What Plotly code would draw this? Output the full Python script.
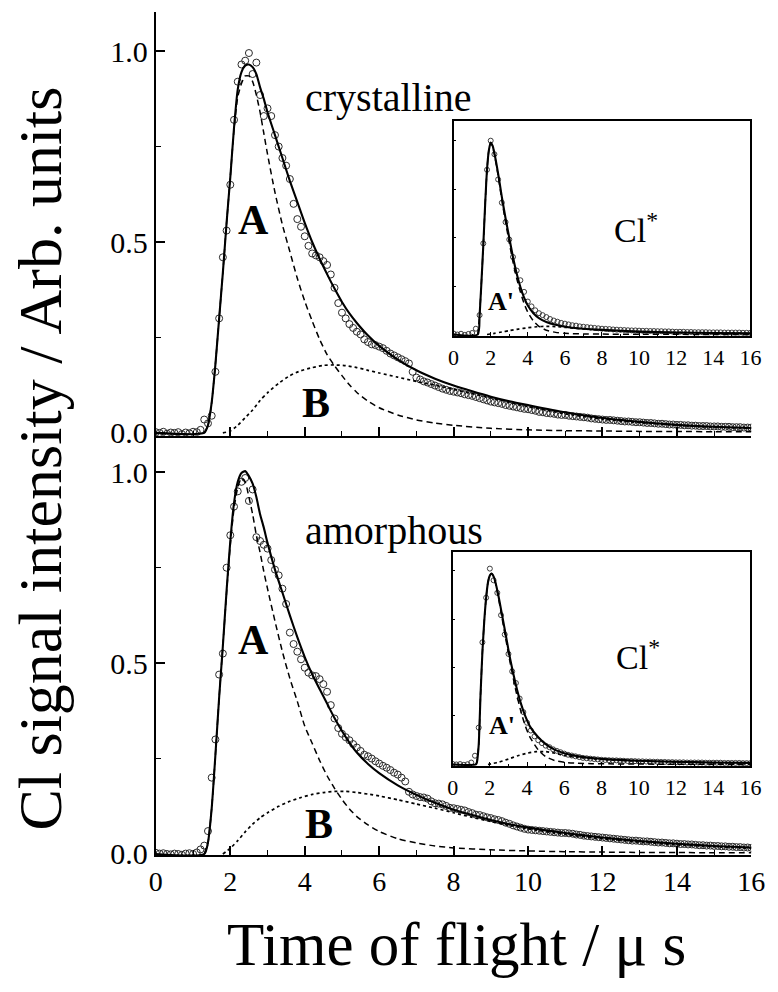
import plotly.graph_objects as go

# ---------------- data ----------------
tof_main = [0.0, 0.1, 0.2, 0.3, 0.4, 0.5, 0.6, 0.7, 0.8, 0.9,
            1.0, 1.1, 1.2, 1.3, 1.4, 1.5, 1.6, 1.7, 1.8, 1.9,
            2.0, 2.1, 2.2, 2.3, 2.4, 2.5, 2.6, 2.7, 2.8, 2.9,
            3.0, 3.1, 3.2, 3.3, 3.4, 3.5, 3.6, 3.7, 3.8, 3.9,
            4.0, 4.1, 4.2, 4.3, 4.4, 4.5, 4.6, 4.7, 4.8, 4.9,
            5.0, 5.1, 5.2, 5.3, 5.4, 5.5, 5.6, 5.7, 5.8, 5.9,
            6.0, 6.1, 6.2, 6.3, 6.4, 6.5, 6.6, 6.7, 6.8, 6.9,
            7.0, 7.1, 7.2, 7.3, 7.4, 7.5, 7.6, 7.7, 7.8, 7.9,
            8.0, 8.1, 8.2, 8.3, 8.4, 8.5, 8.6, 8.7, 8.8, 8.9,
            9.0, 9.1, 9.2, 9.3, 9.4, 9.5, 9.6, 9.7, 9.8, 9.9,
            10.0, 10.1, 10.2, 10.3, 10.4, 10.5, 10.6, 10.7, 10.8, 10.9,
            11.0, 11.1, 11.2, 11.3, 11.4, 11.5, 11.6, 11.7, 11.8, 11.9,
            12.0, 12.1, 12.2, 12.3, 12.4, 12.5, 12.6, 12.7, 12.8, 12.9,
            13.0, 13.1, 13.2, 13.3, 13.4, 13.5, 13.6, 13.7, 13.8, 13.9,
            14.0, 14.1, 14.2, 14.3, 14.4, 14.5, 14.6, 14.7, 14.8, 14.9,
            15.0, 15.1, 15.2, 15.3, 15.4, 15.5, 15.6, 15.7, 15.8, 15.9,
            16.0]

cryst_data = [0.002, 0.000, 0.003, -0.002, 0.001, 0.000, 0.002, -0.003, 0.001, -0.001,
              0.003, 0.002, 0.008, 0.035, 0.025, 0.045, 0.160, 0.300, 0.460, 0.530,
              0.650, 0.820, 0.920, 0.965, 0.975, 0.995, 0.940, 0.970, 0.885, 0.830,
              0.850, 0.830, 0.780, 0.750, 0.720, 0.700, 0.665, 0.600, 0.560, 0.540,
              0.515, 0.490, 0.470, 0.465, 0.460, 0.450, 0.440, 0.415, 0.380, 0.340,
              0.315, 0.300, 0.285, 0.275, 0.265, 0.258, 0.245, 0.238, 0.232, 0.230,
              0.226, 0.222, 0.215, 0.208, 0.203, 0.198, 0.193, 0.188, 0.182, 0.160,
              0.145, 0.140, 0.135, 0.132, 0.128, 0.124, 0.120, 0.116, 0.113, 0.110,
              0.108, 0.106, 0.104, 0.101, 0.099, 0.097, 0.094, 0.091, 0.088, 0.085,
              0.082, 0.080, 0.078, 0.076, 0.073, 0.071, 0.069, 0.067, 0.065, 0.063,
              0.062, 0.060, 0.058, 0.055, 0.054, 0.052, 0.051, 0.050, 0.048, 0.047,
              0.047, 0.045, 0.044, 0.043, 0.042, 0.041, 0.040, 0.038, 0.037, 0.036,
              0.035, 0.034, 0.034, 0.033, 0.032, 0.031, 0.030, 0.030, 0.029, 0.028,
              0.028, 0.027, 0.026, 0.026, 0.025, 0.024, 0.024, 0.023, 0.022, 0.022,
              0.021, 0.021, 0.020, 0.020, 0.019, 0.019, 0.018, 0.018, 0.018, 0.017,
              0.017, 0.017, 0.016, 0.016, 0.016, 0.015, 0.015, 0.015, 0.014, 0.014,
              0.014]

amorph_data = [0.003, 0.001, 0.002, 0.000, -0.001, 0.001, 0.000, -0.002, 0.001, 0.002,
               0.000, 0.004, 0.012, 0.022, 0.060, 0.200, 0.300, 0.470, 0.525, 0.750,
               0.835, 0.910, 0.950, 0.975, 0.985, 0.925, 0.955, 0.830, 0.820, 0.810,
               0.800, 0.770, 0.745, 0.730, 0.695, 0.655, 0.580, 0.550, 0.530, 0.510,
               0.488, 0.475, 0.468, 0.466, 0.458, 0.445, 0.425, 0.390, 0.355, 0.330,
               0.315, 0.306, 0.298, 0.288, 0.279, 0.270, 0.260, 0.256, 0.250, 0.243,
               0.237, 0.231, 0.226, 0.220, 0.213, 0.208, 0.200, 0.190, 0.163, 0.156,
               0.152, 0.149, 0.148, 0.145, 0.138, 0.133, 0.132, 0.130, 0.126, 0.121,
               0.120, 0.118, 0.116, 0.114, 0.110, 0.107, 0.103, 0.102, 0.099, 0.096,
               0.094, 0.091, 0.089, 0.086, 0.082, 0.079, 0.075, 0.072, 0.069, 0.066,
               0.064, 0.063, 0.062, 0.061, 0.060, 0.059, 0.058, 0.057, 0.056, 0.055,
               0.055, 0.054, 0.053, 0.051, 0.050, 0.048, 0.047, 0.046, 0.045, 0.044,
               0.043, 0.042, 0.041, 0.040, 0.039, 0.038, 0.037, 0.036, 0.035, 0.035,
               0.034, 0.033, 0.033, 0.032, 0.031, 0.030, 0.030, 0.029, 0.028, 0.028,
               0.027, 0.026, 0.026, 0.025, 0.025, 0.024, 0.023, 0.023, 0.022, 0.022,
               0.021, 0.021, 0.020, 0.020, 0.019, 0.019, 0.018, 0.018, 0.017, 0.017,
               0.016]

# fitted curves, crystalline
cryst_fit_t = [0.0, 1.3, 1.4, 1.5, 1.6, 1.7, 1.8, 1.9, 2.0, 2.1, 2.2, 2.3, 2.4, 2.5, 2.6, 2.7,
               2.8, 2.9, 3.0, 3.2, 3.4, 3.6, 3.8, 4.0, 4.2, 4.4, 4.6, 4.8, 5.0, 5.2, 5.4, 5.7,
               6.0, 6.5, 7.0, 7.5, 8.0, 8.5, 9.0, 9.5, 10.0, 11.0, 12.0, 13.0, 14.0, 15.0, 16.0]
cryst_fit = [0.0, 0.0, 0.02, 0.08, 0.18, 0.30, 0.42, 0.55, 0.67, 0.80, 0.90, 0.945, 0.962, 0.965,
             0.958, 0.94, 0.905, 0.875, 0.84, 0.78, 0.72, 0.66, 0.605, 0.55, 0.5, 0.456, 0.416,
             0.378, 0.343, 0.313, 0.288, 0.255, 0.228, 0.192, 0.164, 0.142, 0.124, 0.109, 0.095,
             0.083, 0.073, 0.054, 0.039, 0.029, 0.021, 0.016, 0.013]
cryst_A_t = [1.3, 1.4, 1.5, 1.6, 1.7, 1.8, 1.9, 2.0, 2.1, 2.2, 2.3, 2.4, 2.5, 2.6, 2.7, 2.8, 2.9,
             3.0, 3.2, 3.4, 3.6, 3.8, 4.0, 4.2, 4.4, 4.6, 4.8, 5.0, 5.2, 5.4, 5.7, 6.0, 6.5, 7.0,
             7.5, 8.0, 9.0, 10.0, 11.0, 12.0, 13.0, 14.0, 15.0, 16.0]
cryst_A = [0.0, 0.02, 0.08, 0.18, 0.30, 0.42, 0.55, 0.67, 0.795, 0.88, 0.915, 0.935, 0.935, 0.92,
           0.885, 0.84, 0.785, 0.73, 0.63, 0.545, 0.475, 0.405, 0.345, 0.293, 0.245, 0.205, 0.176,
           0.15, 0.126, 0.106, 0.083, 0.066, 0.047, 0.034, 0.026, 0.02, 0.012, 0.008, 0.006,
           0.005, 0.004, 0.004, 0.003, 0.003]
cryst_B_t = [1.8, 2.0, 2.2, 2.4, 2.6, 2.8, 3.0, 3.3, 3.6, 3.9, 4.2, 4.5, 4.8, 5.1, 5.4, 5.7, 6.0,
             6.5, 7.0, 7.5, 8.0, 8.5, 9.0, 9.5, 10.0, 11.0, 12.0, 13.0, 14.0, 15.0, 16.0]
cryst_B = [0.0, 0.005, 0.02, 0.04, 0.06, 0.085, 0.105, 0.13, 0.15, 0.163, 0.171, 0.177, 0.178,
           0.176, 0.171, 0.164, 0.157, 0.146, 0.135, 0.125, 0.114, 0.103, 0.092, 0.08, 0.069,
           0.05, 0.036, 0.027, 0.02, 0.015, 0.012]

# fitted curves, amorphous
amorph_fit_t = cryst_fit_t
amorph_fit = [0.0, 0.0, 0.03, 0.12, 0.26, 0.41, 0.545, 0.69, 0.82, 0.92, 0.975, 0.998, 1.003, 0.99,
              0.97, 0.935, 0.89, 0.855, 0.815, 0.745, 0.685, 0.625, 0.568, 0.516, 0.471, 0.432,
              0.394, 0.356, 0.322, 0.292, 0.266, 0.236, 0.212, 0.18, 0.155, 0.134, 0.116, 0.102,
              0.089, 0.078, 0.069, 0.055, 0.043, 0.034, 0.027, 0.021, 0.017]
amorph_A_t = cryst_A_t
amorph_A = [0.0, 0.03, 0.12, 0.26, 0.41, 0.545, 0.685, 0.81, 0.905, 0.96, 0.985, 0.975, 0.935,
            0.89, 0.835, 0.79, 0.74, 0.695, 0.61, 0.53, 0.46, 0.40, 0.335, 0.29, 0.245, 0.205,
            0.172, 0.143, 0.118, 0.098, 0.076, 0.059, 0.04, 0.029, 0.021, 0.016, 0.011, 0.008,
            0.006, 0.005, 0.004, 0.004, 0.003, 0.003]
amorph_B_t = cryst_B_t
amorph_B = [0.0, 0.015, 0.035, 0.058, 0.078, 0.095, 0.108, 0.125, 0.138, 0.148, 0.156, 0.161,
            0.164, 0.164, 0.161, 0.157, 0.152, 0.142, 0.131, 0.12, 0.108, 0.096, 0.085, 0.075,
            0.066, 0.051, 0.04, 0.031, 0.024, 0.019, 0.015]

# insets (Cl*)
tof_inset = [0.0, 0.2, 0.4, 0.6, 0.8, 1.0, 1.2, 1.4, 1.6, 1.8,
             2.0, 2.2, 2.4, 2.6, 2.8, 3.0, 3.2, 3.4, 3.6, 3.8,
             4.0, 4.2, 4.4, 4.6, 4.8, 5.0, 5.2, 5.4, 5.6, 5.8,
             6.0, 6.2, 6.4, 6.6, 6.8, 7.0, 7.2, 7.4, 7.6, 7.8,
             8.0, 8.2, 8.4, 8.6, 8.8, 9.0, 9.2, 9.4, 9.6, 9.8,
             10.0, 10.2, 10.4, 10.6, 10.8, 11.0, 11.2, 11.4, 11.6, 11.8,
             12.0, 12.2, 12.4, 12.6, 12.8, 13.0, 13.2, 13.4, 13.6, 13.8,
             14.0, 14.2, 14.4, 14.6, 14.8, 15.0, 15.2, 15.4, 15.6, 15.8,
             16.0]
cryst_star_data = [0.005, 0.0, 0.004, -0.002, 0.003, 0.008, 0.03, 0.10, 0.47, 0.85,
                   1.0, 0.93, 0.80, 0.68, 0.58, 0.49, 0.40, 0.33, 0.28, 0.22,
                   0.17, 0.145, 0.125, 0.11, 0.10, 0.09, 0.08, 0.072, 0.066, 0.06,
                   0.056, 0.052, 0.048, 0.046, 0.042, 0.04, 0.038, 0.036, 0.034, 0.032,
                   0.03, 0.029, 0.028, 0.026, 0.025, 0.024, 0.023, 0.022, 0.021, 0.021,
                   0.02, 0.019, 0.019, 0.018, 0.018, 0.017, 0.017, 0.016, 0.016, 0.015,
                   0.014, 0.014, 0.014, 0.013, 0.013, 0.012, 0.012, 0.012, 0.012, 0.011,
                   0.011, 0.011, 0.011, 0.010, 0.010, 0.010, 0.010, 0.010, 0.009, 0.009,
                   0.009]
amorph_star_data = [0.003, 0.0, 0.002, -0.002, 0.001, 0.01, 0.045, 0.19, 0.63, 0.86,
                    1.01, 0.95, 0.885, 0.77, 0.67, 0.57, 0.48, 0.42, 0.34, 0.27,
                    0.215, 0.175, 0.145, 0.125, 0.11, 0.097, 0.089, 0.078, 0.07, 0.063,
                    0.056, 0.05, 0.046, 0.042, 0.038, 0.034, 0.032, 0.03, 0.028, 0.026,
                    0.024, 0.023, 0.022, 0.021, 0.021, 0.02, 0.019, 0.018, 0.018, 0.017,
                    0.016, 0.016, 0.015, 0.015, 0.014, 0.014, 0.013, 0.013, 0.012, 0.012,
                    0.011, 0.011, 0.011, 0.010, 0.010, 0.010, 0.010, 0.010, 0.009, 0.009,
                    0.009, 0.009, 0.009, 0.008, 0.008, 0.008, 0.008, 0.008, 0.007, 0.007,
                    0.007]

cryst_star_fit_t = [0.0, 1.3, 1.4, 1.5, 1.6, 1.7, 1.8, 1.9, 2.0, 2.1, 2.2, 2.4, 2.6, 2.8, 3.0,
                    3.2, 3.4, 3.6, 3.8, 4.0, 4.3, 4.6, 5.0, 5.5, 6.0, 7.0, 8.0, 10.0, 12.0,
                    14.0, 16.0]
cryst_star_fit = [0.0, 0.0, 0.1, 0.27, 0.46, 0.67, 0.85, 0.95, 0.99, 0.975, 0.935, 0.83, 0.71,
                  0.60, 0.50, 0.40, 0.315, 0.245, 0.19, 0.15, 0.11, 0.085, 0.065, 0.05, 0.04,
                  0.03, 0.024, 0.015, 0.01, 0.008, 0.006]
cryst_star_A_t = cryst_star_fit_t[1:]
cryst_star_A = [0.0, 0.1, 0.27, 0.46, 0.67, 0.85, 0.95, 0.99, 0.972, 0.93, 0.82, 0.695, 0.58,
                0.475, 0.375, 0.29, 0.22, 0.16, 0.115, 0.07, 0.042, 0.022, 0.011, 0.006, 0.003,
                0.002, 0.001, 0.001, 0.0, 0.0]
cryst_star_B_t = [1.8, 2.2, 2.6, 3.0, 3.5, 4.0, 4.5, 5.0, 5.5, 6.0, 7.0, 8.0, 10.0, 12.0, 14.0, 16.0]
cryst_star_B = [0.0, 0.006, 0.013, 0.02, 0.028, 0.035, 0.04, 0.042, 0.041, 0.037, 0.029, 0.022,
                0.014, 0.01, 0.008, 0.006]

amorph_star_fit_t = [0.0, 1.25, 1.3, 1.4, 1.5, 1.6, 1.7, 1.8, 1.9, 2.0, 2.1, 2.2, 2.3, 2.45, 2.6,
                     2.85, 3.1, 3.4, 3.65, 3.9, 4.16, 4.6, 5.0, 5.5, 6.0, 6.7, 7.5, 8.4, 10.0,
                     12.0, 14.0, 16.0]
amorph_star_fit = [0.0, 0.0, 0.01, 0.1, 0.36, 0.58, 0.74, 0.86, 0.94, 0.975, 0.985, 0.97, 0.94,
                   0.875, 0.80, 0.67, 0.54, 0.41, 0.32, 0.25, 0.195, 0.14, 0.105, 0.075, 0.058,
                   0.043, 0.033, 0.026, 0.019, 0.014, 0.01, 0.008]
amorph_star_A_t = amorph_star_fit_t[1:]
amorph_star_A = [0.0, 0.01, 0.1, 0.36, 0.58, 0.74, 0.86, 0.94, 0.975, 0.985, 0.97, 0.935, 0.865,
                 0.785, 0.65, 0.52, 0.38, 0.28, 0.20, 0.14, 0.075, 0.04, 0.02, 0.011, 0.006,
                 0.004, 0.003, 0.002, 0.001, 0.001, 0.001]
amorph_star_B_t = [1.9, 2.2, 2.5, 3.0, 3.5, 4.0, 4.5, 5.0, 5.5, 6.0, 7.0, 8.0, 9.0, 10.0, 12.0, 14.0, 16.0]
amorph_star_B = [0.0, 0.006, 0.012, 0.028, 0.045, 0.058, 0.066, 0.066, 0.058, 0.047, 0.034,
                 0.026, 0.021, 0.017, 0.013, 0.009, 0.007]

x_ticks = [0, 2, 4, 6, 8, 10, 12, 14, 16]
y_ticks = [0.0, 0.5, 1.0]
y_tick_text = ["0.0", "0.5", "1.0"]

# ---------------- layout helpers ----------------
W, H = 778, 992
def fx(p):
    return p / W
def fy(p):
    return 1 - p / H

SERIF = "Liberation Serif, Times New Roman, serif"
INK = "black"

fig = go.Figure()

def add_panel(t_d, v_d, t_fit, v_fit, t_a, v_a, t_b, v_b, xa, ya, msize, mw):
    fig.add_trace(go.Scatter(x=t_d, y=v_d, mode="markers", xaxis=xa, yaxis=ya,
                             marker=dict(symbol="circle-open", size=msize, color="#2a2a2a",
                                         line=dict(width=mw)),
                             showlegend=False, hoverinfo="skip"))
    fig.add_trace(go.Scatter(x=t_b, y=v_b, mode="lines", xaxis=xa, yaxis=ya,
                             line=dict(color=INK, width=1.7, dash="dot", shape="spline",
                                       smoothing=0.6),
                             showlegend=False, hoverinfo="skip"))
    fig.add_trace(go.Scatter(x=t_a, y=v_a, mode="lines", xaxis=xa, yaxis=ya,
                             line=dict(color=INK, width=1.5, dash="6px,4px", shape="spline",
                                       smoothing=0.6),
                             showlegend=False, hoverinfo="skip"))
    fig.add_trace(go.Scatter(x=t_fit, y=v_fit, mode="lines", xaxis=xa, yaxis=ya,
                             line=dict(color=INK, width=2.1, shape="spline", smoothing=0.6),
                             showlegend=False, hoverinfo="skip"))

add_panel(tof_main, cryst_data, cryst_fit_t, cryst_fit, cryst_A_t, cryst_A,
          cryst_B_t, cryst_B, "x", "y", 7, 1.0)
add_panel(tof_main, amorph_data, amorph_fit_t, amorph_fit, amorph_A_t, amorph_A,
          amorph_B_t, amorph_B, "x2", "y2", 7, 1.0)
add_panel(tof_inset, cryst_star_data, cryst_star_fit_t, cryst_star_fit, cryst_star_A_t,
          cryst_star_A, cryst_star_B_t, cryst_star_B, "x3", "y3", 5, 0.9)
add_panel(tof_inset, amorph_star_data, amorph_star_fit_t, amorph_star_fit, amorph_star_A_t,
          amorph_star_A, amorph_star_B_t, amorph_star_B, "x4", "y4", 5, 0.9)

main_x_dom = [fx(153), fx(765)]

def xaxis_main(anchor, labels):
    return dict(domain=main_x_dom, range=[0, 16], anchor=anchor, showgrid=False,
                zeroline=False, showline=True, linecolor=INK, linewidth=2,
                ticks="inside", ticklen=9, tickwidth=1.6, tickcolor=INK,
                tickvals=x_ticks, showticklabels=labels,
                tickfont=dict(family=SERIF, size=28, color=INK),
                minor=dict(ticks="inside", ticklen=5, tickwidth=1.3, tickcolor=INK,
                           tickvals=[1, 3, 5, 7, 9, 11, 13, 15], showgrid=False),
                mirror=False, fixedrange=True)

def yaxis_main(dom, rng, anchor):
    return dict(domain=dom, range=rng, anchor=anchor, showgrid=False, zeroline=False,
                showline=True, linecolor=INK, linewidth=2, ticks="inside", ticklen=9,
                tickwidth=1.6, tickcolor=INK, tickvals=y_ticks, ticktext=y_tick_text,
                tickfont=dict(family=SERIF, size=30, color=INK),
                minor=dict(ticks="inside", ticklen=5, tickwidth=1.3, tickcolor=INK,
                           tickvals=[0.25, 0.75], showgrid=False),
                fixedrange=True)

def xaxis_inset(dom, anchor):
    return dict(domain=dom, range=[0, 16], anchor=anchor, showgrid=False, zeroline=False,
                showline=True, mirror=True, linecolor=INK, linewidth=1.6,
                ticks="inside", ticklen=5, tickwidth=1.2, tickcolor=INK,
                tickvals=x_ticks, tickfont=dict(family=SERIF, size=22, color=INK),
                minor=dict(ticks="inside", ticklen=3, tickwidth=1, tickcolor=INK,
                           tickvals=[1, 3, 5, 7, 9, 11, 13, 15], showgrid=False),
                fixedrange=True)

def yaxis_inset(dom, rng, anchor):
    return dict(domain=dom, range=rng, anchor=anchor, showgrid=False, zeroline=False,
                showline=True, mirror=True, linecolor=INK, linewidth=1.6,
                ticks="inside", ticklen=3, tickwidth=1, tickcolor=INK,
                tickvals=[0.25, 0.5, 0.75, 1.0], showticklabels=False, fixedrange=True)

fig.update_layout(
    width=W, height=H, margin=dict(l=0, r=0, t=0, b=0),
    paper_bgcolor="white", plot_bgcolor="rgba(0,0,0,0)",
    showlegend=False,
    xaxis=xaxis_main("y", False),
    yaxis=yaxis_main([fy(443), fy(12)], [-0.0077, 1.103], "x"),
    xaxis2=xaxis_main("y2", True),
    yaxis2=yaxis_main([fy(869), fy(443)], [-0.0026, 1.0954], "x2"),
    xaxis3=xaxis_inset([fx(459), fx(764)], "y3"),
    yaxis3=yaxis_inset([fy(342), fy(123)], [-0.0102, 1.1015], "x3"),
    xaxis4=xaxis_inset([fx(458), fx(764)], "y4"),
    yaxis4=yaxis_inset([fy(779), fy(561)], [-0.0102, 1.096], "x4"),
)

def label(text, x, y, size, bold=False, angle=0, xanchor="center"):
    if bold:
        text = "<b>" + text + "</b>"
    fig.add_annotation(text=text, x=fx(x), y=fy(y), xref="paper", yref="paper",
                       xanchor=xanchor, yanchor="middle", showarrow=False, textangle=angle,
                       font=dict(family=SERIF, size=size, color=INK))

label("crystalline", 392, 99, 40)
label("amorphous", 398, 539, 40)
label("A", 253, 224, 42, bold=True)
label("B", 318, 410, 42, bold=True)
label("A", 253, 650, 42, bold=True)
label("B", 321, 837, 42, bold=True)
label("Cl<sup>*</sup>", 622, 232, 34, xanchor="left")
label("Cl<sup>*</sup>", 624, 666, 34, xanchor="left")
label("A'", 508, 306, 26, bold=True)
label("A'", 509, 737, 26, bold=True)
label("Time of flight / \u03bc s", 462, 960, 61)
label("Cl signal intensity / Arb. units", 34, 466, 62, angle=-90)

fig.write_html("out.html")
